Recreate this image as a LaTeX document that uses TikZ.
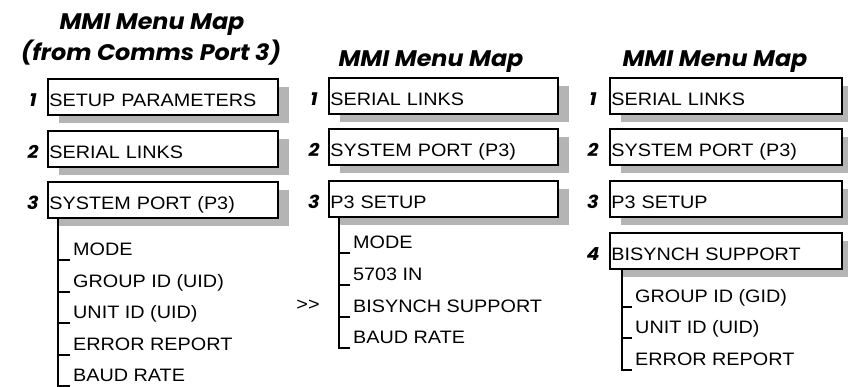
\documentclass[tikz,border=0pt]{standalone}
\usepackage{fontspec}
\usetikzlibrary{shadows}
\newfontfamily\boxfont{Liberation Sans}[FakeStretch=1.1]
\newfontfamily\mapfont{Poppins}[FakeStretch=1.06]
\definecolor{shadegray}{RGB}{180,180,180}
\tikzset{
  menubox/.style={draw, line width=1.8pt, fill=white, anchor=north west,
    general shadow={fill=shadegray, shadow xshift=11pt, shadow yshift=-8pt},
    inner xsep=1.5pt, inner ysep=0pt, text height=28pt, text depth=8pt,
    text width=#1, align=left, font=\boxfont\fontsize{18}{20}\selectfont},
  menuno/.style={anchor=base, font=\mapfont\bfseries\itshape\fontsize{18}{20}\selectfont},
  menuitem/.style={anchor=base west, inner xsep=3pt, inner ysep=0pt, font=\boxfont\fontsize{18}{20}\selectfont},
  maptitle/.style={anchor=base, font=\mapfont\bfseries\itshape\fontsize{22.5}{26}\selectfont},
  treeline/.style={line width=2.2pt}
}
\begin{document}
\begin{tikzpicture}[x=1pt, y=-1pt]
        \useasboundingbox (0,0) rectangle (848,386);
        % Titles
            \node[maptitle] (t1a) at (152, 29) {MMI Menu Map};
            \node[maptitle] (t1b) at (151, 60) {(from Comms Port 3)};
            \node[maptitle] (t2)  at (431, 66) {MMI Menu Map};
            \node[maptitle] (t3)  at (715, 66) {MMI Menu Map};
        % First map: from comms port 3
            \node[menubox=227pt] (a1) at (47, 78)  {SETUP PARAMETERS};
            \node[menubox=227pt] (a2) at (47, 130) {SERIAL LINKS};
            \node[menubox=227pt] (a3) at (47, 181) {SYSTEM PORT (P3)};
            \node[menuno] (na1) at ([shift={(-14,28)}]a1.north west) {1};
            \node[menuno] (na2) at ([shift={(-14,28)}]a2.north west) {2};
            \node[menuno] (na3) at ([shift={(-14,28)}]a3.north west) {3};
            \node[menuitem] (amode) at (70, 255) {MODE};
            \node[menuitem] (agid)  at (70, 287) {GROUP ID (UID)};
            \node[menuitem] (auid)  at (70, 318) {UNIT ID (UID)};
            \node[menuitem] (aerr)  at (70, 350) {ERROR REPORT};
            \node[menuitem] (abaud) at (70, 381) {BAUD RATE};
            \foreach \i in {amode, agid, auid, aerr, abaud}
                \draw[treeline] ([xshift=11pt]a3.south west) |- ([yshift=-5pt]\i.base west);
        % Second map
            \node[menubox=226pt] (b1) at (328, 77)  {SERIAL LINKS};
            \node[menubox=226pt] (b2) at (328, 128) {SYSTEM PORT (P3)};
            \node[menubox=226pt] (b3) at (328, 180) {P3 SETUP};
            \node[menuno] (nb1) at ([shift={(-14,28)}]b1.north west) {1};
            \node[menuno] (nb2) at ([shift={(-14,28)}]b2.north west) {2};
            \node[menuno] (nb3) at ([shift={(-14,28)}]b3.north west) {3};
            \node[menuitem] (bmode) at (350, 248) {MODE};
            \node[menuitem] (bin)   at (350, 280) {5703 IN};
            \node[menuitem] (bbis)  at (350, 312) {BISYNCH SUPPORT};
            \node[menuitem] (bbaud) at (350, 343) {BAUD RATE};
            \foreach \i in {bmode, bin, bbis, bbaud}
                \draw[treeline] ([xshift=11pt]b3.south west) |- ([yshift=-5pt]\i.base west);
            \node[anchor=base, font=\boxfont\fontsize{18}{20}\selectfont] (more) at (308, 310) {>>};
        % Third map
            \node[menubox=229pt] (c1) at (609, 77)  {SERIAL LINKS};
            \node[menubox=229pt] (c2) at (609, 128) {SYSTEM PORT (P3)};
            \node[menubox=229pt] (c3) at (609, 180) {P3 SETUP};
            \node[menubox=229pt] (c4) at (609, 232) {BISYNCH SUPPORT};
            \node[menuno] (nc1) at ([shift={(-16,28)}]c1.north west) {1};
            \node[menuno] (nc2) at ([shift={(-16,28)}]c2.north west) {2};
            \node[menuno] (nc3) at ([shift={(-16,28)}]c3.north west) {3};
            \node[menuno] (nc4) at ([shift={(-16,28)}]c4.north west) {4};
            \node[menuitem] (cgid) at (632, 302) {GROUP ID (GID)};
            \node[menuitem] (cuid) at (632, 333) {UNIT ID (UID)};
            \node[menuitem] (cerr) at (632, 365) {ERROR REPORT};
            \foreach \i in {cgid, cuid, cerr}
                \draw[treeline] ([xshift=13pt]c4.south west) |- ([yshift=-5pt]\i.base west);
\end{tikzpicture}
\end{document}
